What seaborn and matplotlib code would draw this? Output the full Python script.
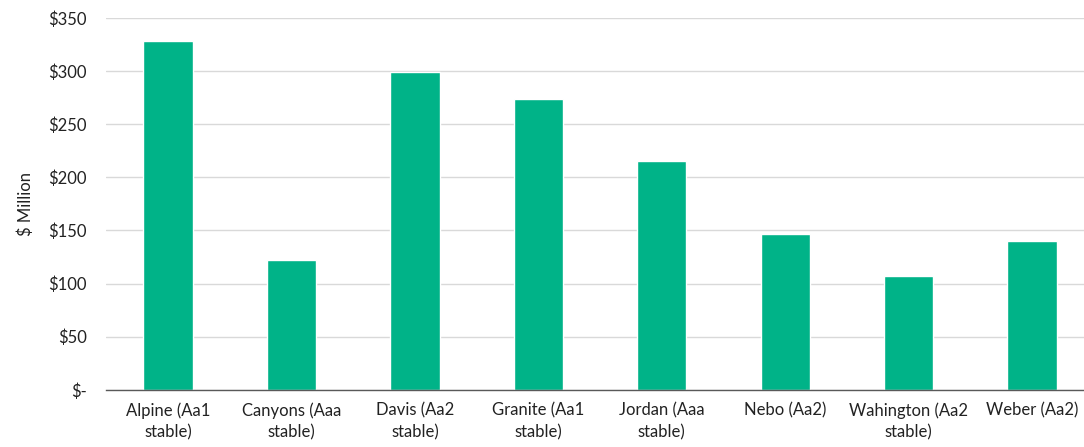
import seaborn as sns
import matplotlib.pyplot as plt
import pandas as pd

districts = ["Alpine (Aa1\nstable)", "Canyons (Aaa\nstable)", "Davis (Aa2\nstable)",
             "Granite (Aa1\nstable)", "Jordan (Aaa\nstable)", "Nebo (Aa2)",
             "Wahington (Aa2\nstable)", "Weber (Aa2)"]
amounts = [328, 122, 299, 274, 215, 147, 107, 140]
yticks = [0, 50, 100, 150, 200, 250, 300, 350]
ytick_labels = ["$-", "$50", "$100", "$150", "$200", "$250", "$300", "$350"]

df = pd.DataFrame({"district": districts, "amount": amounts})

sns.set_style("white")
plt.rcParams["font.family"] = ["Lato", "DejaVu Sans"]

fig = plt.figure(figsize=(10.84, 4.47), dpi=100)
ax = fig.add_axes([0.098, 0.128, 0.902, 0.832])

sns.barplot(data=df, x="district", y="amount", color="#00B388", width=0.4,
            saturation=1, ax=ax)

ax.set_ylim(0, 350)
ax.set_yticks(yticks)
ax.set_yticklabels(ytick_labels, fontsize=12, color="#222222")
ax.set_xlim(-0.5, 7.42)
ax.tick_params(axis="x", labelsize=12, colors="#222222", length=0, pad=9)
for lbl in ax.get_xticklabels():
    lbl.set_linespacing(1.45)
ax.tick_params(axis="y", length=0, pad=14)
ax.grid(axis="y", color="#d9d9d9", linewidth=1)
ax.set_axisbelow(True)
ax.set_xlabel("")
ax.set_ylabel("$ Million", fontsize=12, color="#222222", labelpad=10)

for s in ["top", "right", "left"]:
    ax.spines[s].set_visible(False)
ax.spines["bottom"].set_color("#595959")
ax.spines["bottom"].set_linewidth(1)

fig.savefig("out.png", dpi=100)
